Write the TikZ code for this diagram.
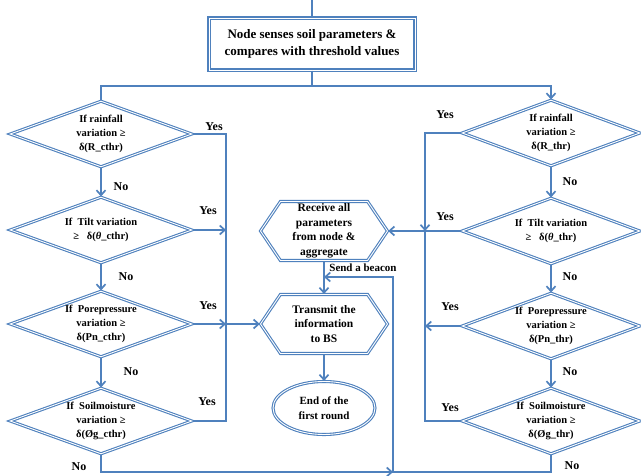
\documentclass[tikz,border=0pt]{standalone}
\usepackage{fontspec}
\setmainfont{Liberation Serif}
\usetikzlibrary{shapes.geometric,shapes.symbols,arrows.meta}
\definecolor{fc}{RGB}{79,129,189}
\begin{document}
\begin{tikzpicture}[x=1pt,y=-1pt,
 line/.style={draw=fc,line width=1.7pt},
 arr/.style={line,-{Straight Barb[length=5pt,width=9pt]}},
 dbl/.style={draw=fc,line width=1.1pt,double=white,double distance=0.9pt,fill=white},
 rbox/.style={dbl,rectangle,minimum width=206pt,minimum height=52pt,inner sep=0pt,align=center,font=\fontsize{13}{17}\selectfont\bfseries},
 dec/.style={dbl,diamond,shape aspect=2.75,inner sep=0pt,minimum width=182pt,minimum height=66pt,align=center,font=\fontsize{10.5}{14}\selectfont\bfseries},
 decr/.style={dec,minimum width=178pt},
 hexa/.style={dbl,signal,signal to=east and west,signal pointer angle=112,minimum width=127pt,minimum height=59pt,inner sep=0pt,align=center,font=\fontsize{11.5}{14.5}\selectfont\bfseries},
 ell/.style={dbl,ellipse,minimum width=102pt,minimum height=53pt,inner sep=0pt,align=center,font=\fontsize{11}{15}\selectfont\bfseries},
 lab/.style={font=\fontsize{12}{14}\selectfont\bfseries,inner sep=0pt}
]
\useasboundingbox (0,0) rectangle (641,476);

% nodes
\node[rbox] (top) at (312,44) {Node senses soil parameters \&\\compares with threshold values};

\node[dec] (l1) at (101,134) {If rainfall\\variation ≥\\δ(R\_cthr)};
\node[dec] (l2) at (101,230) {If\ \ Tilt variation\\≥\ \ \ δ(\textit{θ}\_cthr)};
\node[dec] (l3) at (101,324) {If\ \ Porepressure\\variation ≥\\δ(Pn\_cthr)};
\node[dec] (l4) at (101,421) {If\ \ Soilmoisture\\variation ≥\\δ(Øg\_cthr)};

\node[decr] (r1) at (551,133) {If rainfall\\variation ≥\\δ(R\_thr)};
\node[decr] (r2) at (551,231) {If\ \ Tilt variation\\≥\ \ \ δ(\textit{θ}\_thr)};
\node[decr] (r3) at (551,326) {If\ \ Porepressure\\variation ≥\\δ(Pn\_thr)};
\node[decr] (r4) at (551,421) {If\ \ Soilmoisture\\variation ≥\\δ(Øg\_thr)};

\node[hexa] (recv) at (324,231) {Receive all\\parameters\\from node \&\\aggregate};
\node[hexa] (tx) at (324,324) {Transmit the\\information\\to BS};
\node[ell] (end) at (324,408) {End of the\\first round};

% coordinates
\coordinate (topin) at (312,0);
\coordinate (split) at (312,86);
\coordinate (lbusx) at (226,0);
\coordinate (rbusx) at (425,0);
\coordinate (bx) at (393,472);
\coordinate (btop) at (393,277);

% connectors
\draw[line] (topin) -- (top.north);
\draw[line] (top.south) -- (split);
\draw[line] (split) -| (l1.north);
\draw[arr] (split) -| (r1.north);

\draw[arr] (l1.south) -- (l2.north);
\draw[arr] (l2.south) -- (l3.north);
\draw[arr] (l3.south) -- (l4.north);
\draw[arr] (r1.south) -- (r2.north);
\draw[arr] (r2.south) -- (r3.north);
\draw[arr] (r3.south) -- (r4.north);

\draw[line] (l1.east) -- (l1.east -| lbusx) -- (l4.east -| lbusx) -- (l4.east);
\draw[arr] (l2.east) -- (l2.east -| lbusx);
\draw[arr] (l3.east) -- (l3.east -| lbusx);
\draw[arr] (l3.east -| lbusx) -- (tx.west);

\draw[arr] (r1.west) -- (r1.west -| rbusx) -- (r2.west -| rbusx);
\draw[arr] (r2.west) -- (recv.east);
\draw[line] (r2.west -| rbusx) -- (r4.west -| rbusx) -- (r4.west);
\draw[arr] (r3.west) -- (r3.west -| rbusx);

\draw[arr] (recv.south) -- (tx.north);
\draw[arr] (tx.south) -- (end.north);

\draw[arr] (l4.south) |- (bx);
\draw[arr] (r4.south) |- (bx) -- (btop) -- (recv.south |- btop);

% labels
\node[lab] (yl1) at (214,127) {Yes};
\node[lab] (nl1) at (121,187) {No};
\node[lab] (yl2) at (208,211) {Yes};
\node[lab] (nl2) at (126,277) {No};
\node[lab] (yl3) at (208,306) {Yes};
\node[lab] (nl3) at (131,372) {No};
\node[lab] (yl4) at (207,402) {Yes};
\node[lab] (nl4) at (79,467) {No};

\node[lab] (yr1) at (445,115) {Yes};
\node[lab] (nr1) at (570,182) {No};
\node[lab] (yr2) at (445,217) {Yes};
\node[lab] (nr2) at (570,277) {No};
\node[lab] (yr3) at (450,307) {Yes};
\node[lab] (nr3) at (570,372) {No};
\node[lab] (yr4) at (450,408) {Yes};
\node[lab] (nr4) at (572,466) {No};

\node[lab,font=\fontsize{11}{13}\selectfont\bfseries] (beacon) at (363,268) {Send a beacon};
\end{tikzpicture}
\end{document}
